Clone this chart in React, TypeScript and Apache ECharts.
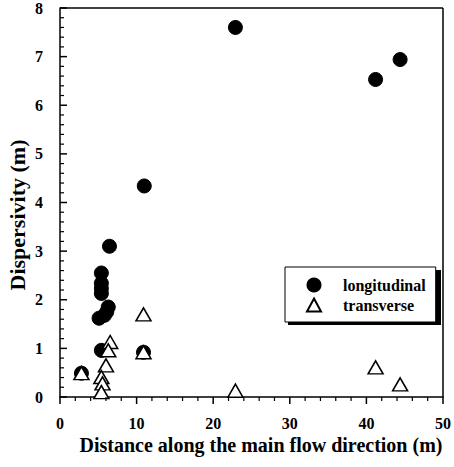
import React, { useEffect, useRef } from "react";
import * as echarts from "echarts";

const longitudinalX = [2.8, 5.4, 5.4, 5.4, 5.4, 5.1, 5.8, 6.1, 6.3, 6.46, 11.0, 22.9, 41.2, 44.4, 5.4, 10.9];
const longitudinalY = [0.49, 2.55, 2.34, 2.23, 2.13, 1.62, 1.68, 1.75, 1.85, 3.1, 4.34, 7.6, 6.53, 6.94, 0.96, 0.92];

const transverseX = [10.9, 6.55, 6.3, 10.9, 2.8, 6.0, 5.4, 5.55, 5.4, 22.9, 41.2, 44.4];
const transverseY = [1.7, 1.13, 0.96, 0.92, 0.49, 0.65, 0.41, 0.28, 0.1, 0.13, 0.61, 0.26];

const xTicks = [0, 10, 20, 30, 40, 50];
const yTicks = [0, 1, 2, 3, 4, 5, 6, 7, 8];
const xMinorTicks = [2, 4, 6, 8, 12, 14, 16, 18, 22, 24, 26, 28, 32, 34, 36, 38, 42, 44, 46, 48];
const yMinorTicks = [
  0.2, 0.4, 0.6, 0.8, 1.2, 1.4, 1.6, 1.8, 2.2, 2.4, 2.6, 2.8, 3.2, 3.4, 3.6, 3.8,
  4.2, 4.4, 4.6, 4.8, 5.2, 5.4, 5.6, 5.8, 6.2, 6.4, 6.6, 6.8, 7.2, 7.4, 7.6, 7.8,
];

const FONT = "'Liberation Serif', 'Times New Roman', serif";

export default function App() {
  const ref = useRef<HTMLDivElement>(null);
  useEffect(() => {
    if (!ref.current) return;
    const chart = echarts.init(ref.current, null, { renderer: "svg" });
    const zip = (xs: number[], ys: number[]) => xs.map((x, i) => [x, ys[i]]);

    const tickSeries = (name: string, data: number[][], size: number[], offset: number[]) => ({
      name,
      type: "scatter",
      clip: false,
      silent: true,
      z: 4,
      symbol: "rect",
      symbolSize: size,
      symbolOffset: offset,
      itemStyle: { color: "#000", opacity: 1, borderWidth: 0 },
      emphasis: { disabled: true },
      data,
    });

    chart.setOption({
      animation: false,
      backgroundColor: "#fff",
      grid: { left: 60, right: 7, top: 8, bottom: 70, containLabel: false },
      legend: {
        orient: "vertical",
        left: 285,
        top: 267,
        padding: [10, 10, 9, 21],
        itemGap: 4,
        itemWidth: 14,
        itemHeight: 13,
        backgroundColor: "#fff",
        borderColor: "#000",
        borderWidth: 1,
        z: 10,
        textStyle: { fontFamily: FONT, fontWeight: "bold", fontSize: 16, color: "#000", padding: [0, 0, 0, 17] },
        data: ["longitudinal", "transverse"],
      },
      xAxis: {
        type: "value",
        min: 0,
        max: 50,
        interval: 10,
        axisLine: { show: true, lineStyle: { color: "#000", width: 1.5 } },
        axisTick: { show: false },
        axisLabel: {
          fontFamily: FONT, fontWeight: "bold", fontSize: 16, color: "#000", margin: 18,
          formatter: (v: number) => (xTicks.includes(v) ? String(v) : ""),
        },
        splitLine: { show: false },
      },
      yAxis: {
        type: "value",
        min: 0,
        max: 8,
        interval: 1,
        axisLine: { show: true, lineStyle: { color: "#000", width: 1.5 } },
        axisTick: { show: false },
        axisLabel: {
          fontFamily: FONT, fontWeight: "bold", fontSize: 16, color: "#000", margin: 17,
          formatter: (v: number) => (yTicks.includes(v) ? String(v) : ""),
        },
        splitLine: { show: false },
      },
      graphic: [
        {
          type: "rect",
          z: 5,
          shape: { x: 288, y: 270, width: 153, height: 55 },
          style: { fill: "#000" },
        },
        {
          type: "text",
          x: 17,
          y: 215,
          rotation: Math.PI / 2,
          style: {
            text: "Dispersivity (m)",
            fontFamily: FONT,
            fontWeight: "bold",
            fontSize: 22,
            fill: "#000",
            textAlign: "center",
            textVerticalAlign: "middle",
          },
        },
        {
          type: "text",
          x: 261,
          y: 445,
          style: {
            text: "Distance along the main flow direction (m)",
            fontFamily: FONT,
            fontWeight: "bold",
            fontSize: 20,
            fill: "#000",
            textAlign: "center",
            textVerticalAlign: "middle",
          },
        },
      ],
      series: [
        tickSeries("xMajorTicks", xTicks.map((v) => [v, 0]), [1.5, 7], [0, 3.5]),
        tickSeries("xMinorTicks", xMinorTicks.map((v) => [v, 0]), [1.2, 4], [0, 2]),
        tickSeries("yMajorTicks", yTicks.map((v) => [0, v]), [7, 1.5], [3.5, 0]),
        tickSeries("yMinorTicks", yMinorTicks.map((v) => [0, v]), [4, 1.2], [2, 0]),
        {
          name: "longitudinal",
          type: "scatter",
          symbol: "circle",
          symbolSize: 14,
          itemStyle: { color: "#000", borderColor: "#000", borderWidth: 1, opacity: 1 },
          data: zip(longitudinalX, longitudinalY),
          z: 2,
        },
        {
          name: "transverse",
          type: "scatter",
          symbol: "triangle",
          symbolSize: [15, 13],
          itemStyle: { color: "#fff", borderColor: "#000", borderWidth: 1.5, opacity: 1 },
          data: zip(transverseX, transverseY),
          z: 3,
        },
        {
          name: "frame",
          type: "line",
          data: [],
          markLine: {
            silent: true,
            symbol: "none",
            label: { show: false },
            lineStyle: { color: "#000", width: 1.5, type: "solid" },
            data: [
              [{ coord: [0, 8] }, { coord: [50, 8] }],
              [{ coord: [50, 0] }, { coord: [50, 8] }],
            ],
          },
        },
      ],
    });
    return () => chart.dispose();
  }, []);
  return <div ref={ref} style={{ width: 454, height: 467, position: "absolute", left: 0, top: 0 }} />;
}
